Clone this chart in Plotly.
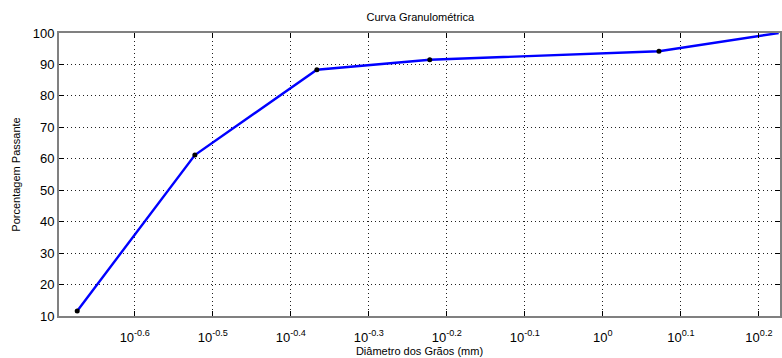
import plotly.graph_objects as go

# Data (sieve diameters in mm, percentage passing)
diametro_mm = [0.212, 0.30, 0.43, 0.60, 1.18, 1.68]
passante_pct = [11.6, 61.2, 88.3, 91.5, 94.2, 100.0]

x_tick_exps = [-0.6, -0.5, -0.4, -0.3, -0.2, -0.1, 0.0, 0.1, 0.2]
x_tick_text = ["10<sup>-0.6</sup>", "10<sup>-0.5</sup>", "10<sup>-0.4</sup>",
               "10<sup>-0.3</sup>", "10<sup>-0.2</sup>", "10<sup>-0.1</sup>",
               "10<sup>0</sup>", "10<sup>0.1</sup>", "10<sup>0.2</sup>"]
y_ticks = [10, 20, 30, 40, 50, 60, 70, 80, 90, 100]

FONT = "Liberation Sans, Arial, Helvetica, sans-serif"

fig = go.Figure()
fig.add_trace(go.Scatter(
    x=diametro_mm, y=passante_pct, mode="lines",
    line=dict(color="#0000FF", width=2.4),
    showlegend=False, cliponaxis=True,
))
fig.add_trace(go.Scatter(
    x=diametro_mm[:-1], y=passante_pct[:-1], mode="markers",
    marker=dict(color="black", size=5),
    showlegend=False, cliponaxis=True,
))

fig.update_layout(
    width=782, height=358,
    margin=dict(l=59, r=0, t=33, b=42),
    paper_bgcolor="white", plot_bgcolor="white",
    font=dict(family=FONT, color="black", size=12),
    title=dict(text="Curva Granulométrica", x=0.5375, xanchor="center",
               y=1 - 17 / 358, yanchor="middle",
               font=dict(size=11, family=FONT, color="black")),
)
fig.update_xaxes(
    type="log", range=[-0.697, 0.227],
    tickmode="array", tickvals=[10 ** e for e in x_tick_exps], ticktext=x_tick_text,
    ticks="inside", ticklen=5, tickcolor="black", tickwidth=1,
    ticklabelstandoff=8,
    showline=True, linecolor="#808080", linewidth=2, mirror="ticks",
    showgrid=True, gridcolor="#202020", griddash="1px,3px", gridwidth=1,
    zeroline=False,
    tickfont=dict(size=13, family=FONT, color="black"),
    title=dict(text="Diâmetro dos Grãos (mm)", standoff=4,
               font=dict(size=11, family=FONT, color="black")),
)
fig.update_yaxes(
    range=[10, 100],
    tickmode="array", tickvals=y_ticks,
    ticks="inside", ticklen=5, tickcolor="black", tickwidth=1,
    showline=True, linecolor="#808080", linewidth=2, mirror="ticks",
    showgrid=True, gridcolor="#202020", griddash="1px,3px", gridwidth=1,
    zeroline=False,
    tickfont=dict(size=13, family=FONT, color="black"),
    title=dict(text="Porcentagem Passante", standoff=10,
               font=dict(size=11, family=FONT, color="black")),
)

fig.write_html("out.html")
